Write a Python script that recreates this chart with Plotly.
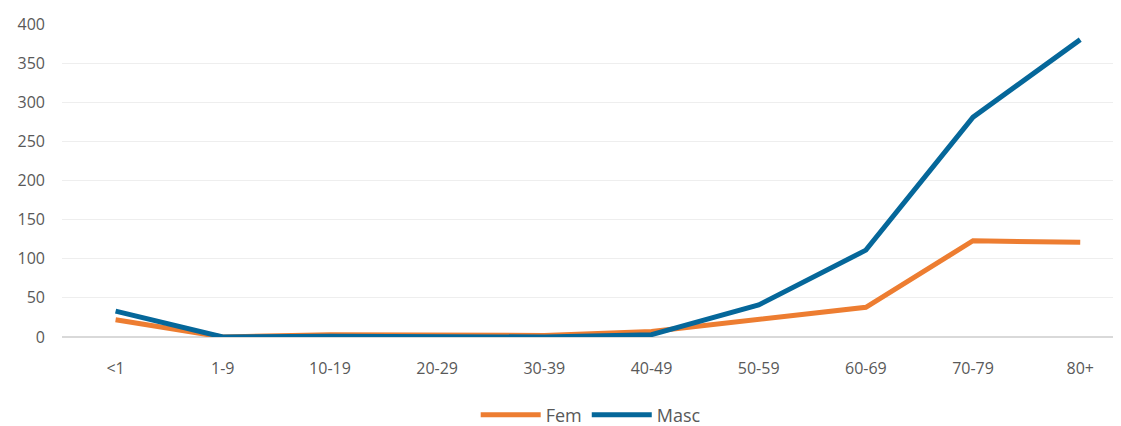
import plotly.graph_objects as go

categories = ["<1", "1-9", "10-19", "20-29", "30-39", "40-49", "50-59", "60-69", "70-79", "80+"]
fem = [22, 0, 3, 2, 2, 7, 22, 38, 123, 121]
masc = [33, 0, 1, 1, 0, 3, 41, 111, 281, 380]
y_ticks = [0, 50, 100, 150, 200, 250, 300, 350, 400]

fig = go.Figure()
fig.add_trace(go.Scatter(x=categories, y=fem, name="Fem", mode="lines",
                         line=dict(color="#ED7D31", width=5)))
fig.add_trace(go.Scatter(x=categories, y=masc, name="Masc", mode="lines",
                         line=dict(color="#05679A", width=5)))

fig.update_layout(
    width=1121, height=418,
    margin=dict(l=54, r=0, t=16, b=89, autoexpand=False),
    paper_bgcolor="white", plot_bgcolor="white",
    font=dict(family="Open Sans, Calibri, sans-serif", size=16, color="#595959"),
    showlegend=True,
    legend=dict(orientation="h", x=0.4955, xanchor="center", y=-0.249, yanchor="middle",
                font=dict(size=18, color="#595959"), itemwidth=60, tracegroupgap=0),
)
fig.update_xaxes(type="category", range=[-0.5, 9.455], showgrid=False,
                 ticks="", showline=False, ticklabelstandoff=20,
                 tickfont=dict(size=16, color="#595959"))
fig.update_yaxes(range=[0, 400], tickvals=y_ticks, showgrid=True, gridcolor="#EEEEEE",
                 gridwidth=1, zeroline=True, zerolinecolor="#D9D9D9", zerolinewidth=1.5,
                 ticks="", ticklabelstandoff=16, tickfont=dict(size=16, color="#595959"))

fig.write_html("out.html")
